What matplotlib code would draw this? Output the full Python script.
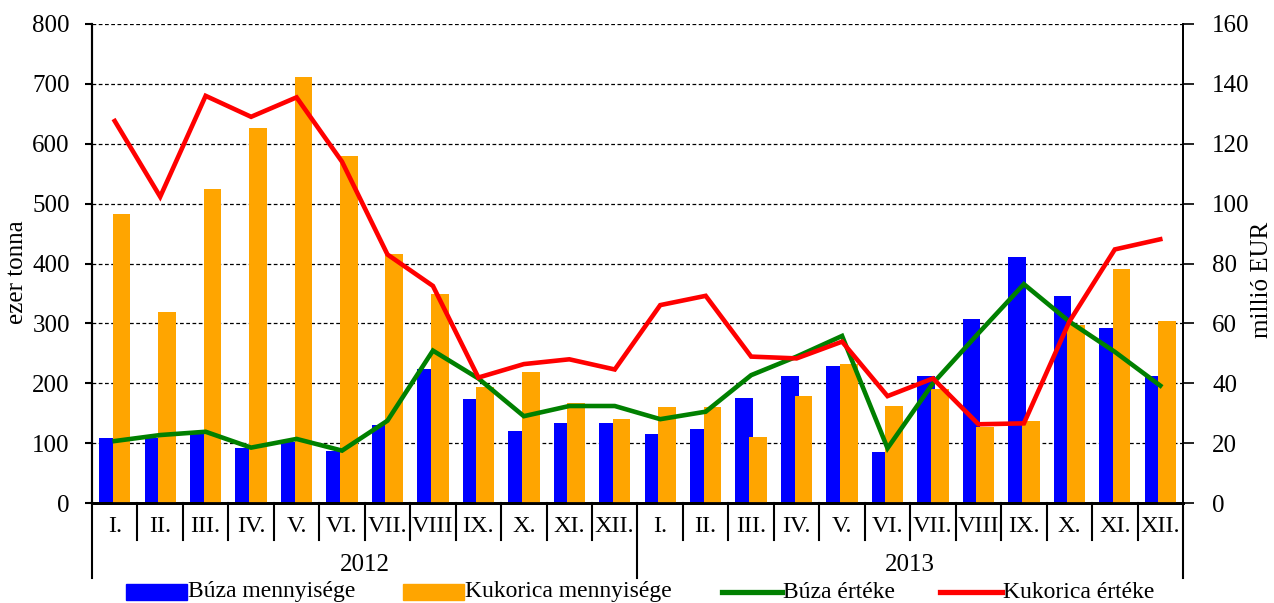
import matplotlib
matplotlib.use("Agg")
import matplotlib.pyplot as plt
import matplotlib.transforms as mtransforms
import numpy as np
from matplotlib.patches import Rectangle
from matplotlib.lines import Line2D

plt.rcParams['font.family'] = ['Liberation Serif', 'DejaVu Serif']

months = ["I.", "II.", "III.", "IV.", "V.", "VI.", "VII.", "VIII", "IX.", "X.", "XI.", "XII."]
years = ["2012", "2013"]

buza_menny = [109, 108, 116, 92, 102, 87, 130, 223, 173, 121, 133, 133,
              115, 123, 175, 212, 229, 85, 212, 307, 411, 346, 293, 212]
kukorica_menny = [482, 319, 525, 627, 712, 580, 416, 349, 194, 218, 167, 140,
                  161, 161, 111, 179, 232, 162, 191, 127, 137, 297, 390, 304]
buza_ertek = [20.7, 22.7, 23.8, 18.5, 21.4, 17.5, 27.5, 50.9, 41.6, 29.0, 32.4, 32.4,
              28.0, 30.5, 42.7, 48.9, 55.8, 18.3, 40.0, 56.7, 73.1, 60.6, 50.5, 39.2]
kukorica_ertek = [127.6, 102.3, 136.0, 129.0, 135.5, 114.0, 83.0, 72.5, 41.9, 46.4, 48.0, 44.6,
                  66.1, 69.2, 48.9, 48.3, 53.9, 35.7, 41.6, 26.3, 26.6, 60.6, 84.7, 88.1]
legend_labels = ['Búza mennyisége', 'Kukorica mennyisége', 'Búza értéke', 'Kukorica értéke']

BLUE, ORANGE, GREEN, RED = '#0000FF', '#FFA500', '#008000', '#FF0000'
FS_TICK = 18
FS_MONTH = 17.5
FS_LEG = 17
LW = 3.3
W, H = 1274, 603

fig = plt.figure(figsize=(W/100, H/100), dpi=100)
ax = fig.add_axes([92/W, 1-503/H, (1183-92)/W, (503-24)/H])
ax2 = ax.twinx()

n = len(buza_menny)
x = np.arange(n)
w = 0.39
ax.bar(x - 0.15, buza_menny, width=w, color=BLUE, zorder=2)
ax.bar(x + 0.15, kukorica_menny, width=w, color=ORANGE, zorder=3)
ax2.plot(x, buza_ertek, color=GREEN, lw=LW, solid_joinstyle='miter')
ax2.plot(x, kukorica_ertek, color=RED, lw=LW, solid_joinstyle='miter')

ax.set_xlim(-0.5, n - 0.5)
ax.set_ylim(0, 800)
ax2.set_ylim(0, 160)
ax.set_yticks(np.arange(0, 801, 100))
ax2.set_yticks(np.arange(0, 161, 20))
ax.set_axisbelow(True)
ax.yaxis.grid(True, linestyle=(0, (3, 2)), color='black', lw=0.9)
ax.set_xticks([])
for a in (ax, ax2):
    a.spines['top'].set_visible(False)
    a.spines['left'].set_linewidth(1.5)
    a.spines['right'].set_linewidth(1.3)
    a.spines['bottom'].set_linewidth(2)
ax.tick_params(axis='y', labelsize=FS_TICK, length=5, width=1.5, direction='out', pad=11)
ax2.tick_params(axis='y', labelsize=FS_TICK, length=8, width=1.2, direction='out', pad=13)
ax.set_ylabel('ezer tonna', fontsize=FS_TICK)
ax.yaxis.set_label_coords((28-92)/1091, (503-272)/479)
ax2.set_ylabel('millió EUR', fontsize=FS_TICK)
ax2.yaxis.set_label_coords((1251-92)/1091, (503-280)/479)

trans = mtransforms.blended_transform_factory(ax.transData, ax.transAxes)
month_depth = -(540-503)/479
year_depth = -(578-503)/479
for i in range(n + 1):
    xb = i - 0.5
    depth = year_depth if i % 12 == 0 else month_depth
    ax.plot([xb, xb], [0, depth], transform=trans, color='black', lw=1.5, clip_on=False)
for i in range(n):
    ax.text(i, -(526-503)/479, months[i % 12], transform=trans, ha='center', va='center',
            fontsize=FS_MONTH)
for j, yl in enumerate(years):
    ax.text(j*12 + 5.5, -(565-503)/479, yl, transform=trans, ha='center', va='center',
            fontsize=FS_TICK)

# legend (figure coordinates)
ly = 1 - 592/H
ph = 16/H
fig.patches.append(Rectangle((126/W, ly - ph/2), 61/W, ph, color=BLUE, transform=fig.transFigure))
fig.patches.append(Rectangle((403/W, ly - ph/2), 61/W, ph, color=ORANGE, transform=fig.transFigure))
fig.lines.append(Line2D([722/W, 782/W], [ly, ly], color=GREEN, lw=LW+0.5, transform=fig.transFigure))
fig.lines.append(Line2D([940/W, 1002/W], [ly, ly], color=RED, lw=LW+0.5, transform=fig.transFigure))
for xt, lab in zip([188, 465, 783, 1003], legend_labels):
    fig.text(xt/W, ly, lab, ha='left', va='center', fontsize=FS_LEG)

fig.savefig('out.png', dpi=100)
